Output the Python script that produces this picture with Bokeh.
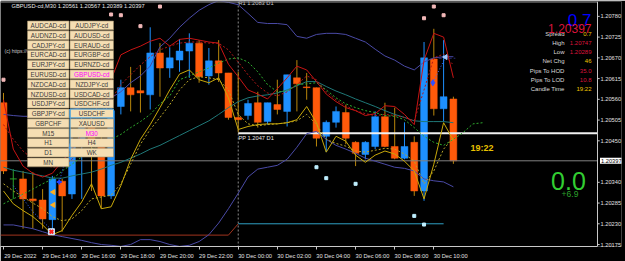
from bokeh.plotting import figure
from bokeh.models import Range1d, FixedTicker, CustomJSTickFormatter, PrintfTickFormatter, Span, Label
from bokeh.core.properties import value
from bokeh.embed import file_html
from bokeh.resources import INLINE

FONT = value("Liberation Sans")

# ---------------- data ----------------
title_text = "GBPUSD-cd,M30  1.20561 1.20567 1.20389 1.20397"

opens = [1.20551, 1.20349, 1.20349, 1.20296, 1.20293, 1.20241, 1.20343, 1.20309, 1.20440, 1.20490,
         1.20450, 1.20304, 1.20541, 1.20591, 1.20583, 1.20572, 1.20683, 1.20643, 1.20664, 1.20688,
         1.20709, 1.20622, 1.20662, 1.20630, 1.20512, 1.20517, 1.20551, 1.20501, 1.20546, 1.20528,
         1.20617, 1.20593, 1.20591, 1.20462, 1.20499, 1.20525, 1.20446, 1.20414, 1.20435, 1.20514,
         1.20435, 1.20404, 1.20446, 1.20317, 1.20667, 1.20535, 1.20561]
highs = [1.20577, 1.20375, 1.20370, 1.20367, 1.20322, 1.20357, 1.20349, 1.20470, 1.20520, 1.20510,
         1.20480, 1.20545, 1.20612, 1.20646, 1.20651, 1.20751, 1.20709, 1.20698, 1.20720, 1.20735,
         1.20717, 1.20696, 1.20717, 1.20630, 1.20633, 1.20559, 1.20580, 1.20551, 1.20612, 1.20625,
         1.20664, 1.20630, 1.20591, 1.20504, 1.20541, 1.20546, 1.20449, 1.20449, 1.20528, 1.20551,
         1.20538, 1.20499, 1.20462, 1.20712, 1.20747, 1.20717, 1.20567]
lows = [1.20362, 1.20296, 1.20217, 1.20217, 1.20217, 1.20209, 1.20209, 1.20296, 1.20296, 1.20317,
        1.20270, 1.20296, 1.20520, 1.20528, 1.20525, 1.20533, 1.20567, 1.20617, 1.20633, 1.20617,
        1.20604, 1.20599, 1.20606, 1.20506, 1.20472, 1.20506, 1.20485, 1.20493, 1.20520, 1.20488,
        1.20528, 1.20559, 1.20435, 1.20420, 1.20485, 1.20441, 1.20383, 1.20401, 1.20428, 1.20433,
        1.20401, 1.20401, 1.20304, 1.20291, 1.20517, 1.20501, 1.20389]
closes = [1.20370, 1.20349, 1.20296, 1.20291, 1.20243, 1.20349, 1.20304, 1.20440, 1.20490, 1.20450,
          1.20304, 1.20530, 1.20591, 1.20572, 1.20577, 1.20683, 1.20643, 1.20670, 1.20688, 1.20709,
          1.20620, 1.20662, 1.20630, 1.20512, 1.20506, 1.20549, 1.20499, 1.20551, 1.20533, 1.20625,
          1.20601, 1.20591, 1.20457, 1.20499, 1.20528, 1.20457, 1.20417, 1.20446, 1.20514, 1.20435,
          1.20404, 1.20435, 1.20317, 1.20670, 1.20535, 1.20567, 1.20397]

upper_band = [1.20520, 1.20517, 1.20515, 1.20515, 1.20517, 1.20522, 1.20528, 1.20533, 1.20538, 1.20546,
              1.20556, 1.20564, 1.20580, 1.20604, 1.20622, 1.20648, 1.20699, 1.20722, 1.20751, 1.20775,
              1.20796, 1.20811, 1.20822, 1.20817, 1.20811, 1.20788, 1.20764, 1.20761, 1.20761, 1.20758,
              1.20727, 1.20722, 1.20732, 1.20735, 1.20735, 1.20732, 1.20722, 1.20712, 1.20693, 1.20675,
              1.20664, 1.20648, 1.20638, 1.20659, 1.20670, 1.20673, 1.20673]
middle_band = [1.20380, 1.20372, 1.20367, 1.20362, 1.20357, 1.20351, 1.20351, 1.20357, 1.20362, 1.20367,
               1.20375, 1.20385, 1.20393, 1.20404, 1.20415, 1.20428, 1.20438, 1.20451, 1.20464, 1.20477,
               1.20490, 1.20503, 1.20520, 1.20538, 1.20554, 1.20564, 1.20569, 1.20572, 1.20577, 1.20585,
               1.20596, 1.20607, 1.20607, 1.20594, 1.20582, 1.20572, 1.20561, 1.20551, 1.20541, 1.20530,
               1.20520, 1.20512, 1.20503, 1.20501, 1.20501, 1.20501, 1.20498]
lower_band = [1.20227, 1.20227, 1.20222, 1.20217, 1.20209, 1.20201, 1.20196, 1.20191, 1.20186, 1.20180,
              1.20175, 1.20173, 1.20170, 1.20175, 1.20188, 1.20188, 1.20183, 1.20175, 1.20170, 1.20173,
              1.20183, 1.20201, 1.20232, 1.20270, 1.20311, 1.20354, 1.20375, 1.20380, 1.20385, 1.20401,
              1.20433, 1.20469, 1.20475, 1.20454, 1.20438, 1.20428, 1.20417, 1.20404, 1.20396, 1.20388,
              1.20380, 1.20377, 1.20370, 1.20349, 1.20344, 1.20341, 1.20328]
red_line = [1.20559, 1.20428, 1.20383, 1.20364, 1.20354, 1.20364, 1.20396, 1.20428, 1.20467, 1.20512,
            1.20559, 1.20612, 1.20678, 1.20691, 1.20701, 1.20714, 1.20722, 1.20701, 1.20719, 1.20722,
            1.20717, 1.20712, 1.20709, 1.20653, 1.20620, 1.20585, 1.20574, 1.20561, 1.20588, 1.20617,
            1.20648, 1.20638, 1.20607, 1.20574, 1.20554, 1.20538, 1.20530, 1.20517, 1.20522, 1.20543,
            1.20541, 1.20520, 1.20493, 1.20664, 1.20735, 1.20725, 1.20617]
red_dotted = [1.20493, 1.20454, 1.20423, 1.20401, 1.20388, 1.20380, 1.20383, 1.20401, 1.20433, 1.20467,
              1.20512, 1.20559, 1.20599, 1.20625, 1.20651, 1.20673, 1.20691, 1.20701, 1.20709, 1.20712,
              1.20712, 1.20709, 1.20709, 1.20691, 1.20659, 1.20625, 1.20596, 1.20577, 1.20569, 1.20580,
              1.20599, 1.20622, 1.20612, 1.20580, 1.20559, 1.20543, 1.20530, 1.20522, 1.20517, 1.20520,
              1.20517, 1.20512, 1.20503, 1.20585, 1.20670, 1.20680, 1.20651]
yellow_line = [1.20317, 1.20283, 1.20265, 1.20249, 1.20227, 1.20201, 1.20212, 1.20252, 1.20288, 1.20336,
               1.20270, 1.20275, 1.20331, 1.20401, 1.20454, 1.20493, 1.20538, 1.20585, 1.20627, 1.20638,
               1.20612, 1.20604, 1.20617, 1.20564, 1.20480, 1.20488, 1.20493, 1.20495, 1.20495, 1.20498,
               1.20506, 1.20541, 1.20498, 1.20420, 1.20462, 1.20449, 1.20412, 1.20393, 1.20412, 1.20423,
               1.20415, 1.20396, 1.20370, 1.20296, 1.20388, 1.20498, 1.20451]
yellow_dotted = [1.20336, 1.20317, 1.20301, 1.20285, 1.20270, 1.20249, 1.20238, 1.20243, 1.20265, 1.20296,
                 1.20301, 1.20306, 1.20336, 1.20388, 1.20441, 1.20480, 1.20512, 1.20546, 1.20585, 1.20612,
                 1.20620, 1.20617, 1.20612, 1.20585, 1.20520, 1.20495, 1.20490, 1.20493, 1.20495, 1.20498,
                 1.20503, 1.20520, 1.20493, 1.20454, 1.20443, 1.20436, 1.20423, 1.20420, 1.20425, 1.20430,
                 1.20428, 1.20415, 1.20396, 1.20336, 1.20370, 1.20428, 1.20459]
green_dotted = [1.20283, 1.20296, 1.20309, 1.20322, 1.20336, 1.20349, 1.20370, 1.20388, 1.20407, 1.20428,
                1.20443, 1.20454, 1.20467, 1.20485, 1.20501, 1.20520, 1.20548, 1.20569, 1.20612, 1.20622,
                1.20633, 1.20643, 1.20656, 1.20667, 1.20670, 1.20659, 1.20633, 1.20599, 1.20580, 1.20582,
                1.20599, 1.20601, 1.20604, 1.20585, 1.20564, 1.20548, 1.20538, 1.20530, 1.20525, 1.20517,
                1.20515, 1.20506, 1.20485, 1.20462, 1.20446, 1.20438, 1.20454, 1.20472, 1.20495, 1.20498]

time_ticks = [0, 4, 8, 12, 16, 20, 24, 28, 32, 36, 40, 44]
time_labels = ["29 Dec 2022", "29 Dec 14:00", "29 Dec 16:00", "29 Dec 18:00", "29 Dec 20:00",
               "29 Dec 22:00", "30 Dec 00:00", "30 Dec 02:00", "30 Dec 04:00", "30 Dec 06:00",
               "30 Dec 08:00", "30 Dec 10:00"]
price_ticks = [1.20175, 1.20230, 1.20285, 1.20340, 1.20450, 1.20505, 1.20560,
               1.20615, 1.20670, 1.20725, 1.20780]

bid_price = 1.20397
day_start_bar = 24
pp_level = 1.2047
pp_label = "PP 1.2047 D1"
r1_label = "R1 1.2083 D1"
prev_support = 1.2020
day_support = 1.2023
last_level_bar = 45

pink_bars = [0, 11, 12, 14, 16, 43, 44, 45]
pink_prices = [1.20612, 1.20785, 1.20783, 1.20754, 1.20806, 1.20775, 1.20806, 1.20783]
cyan_bars = [32, 33, 36, 42, 43]
cyan_prices = [1.20380, 1.20351, 1.20336, 1.20251, 1.20228]

left_buttons = ["AUDCAD-cd", "AUDNZD-cd", "CADJPY-cd", "EURCAD-cd", "EURJPY-cd", "EURUSD-cd",
                "NZDCAD-cd", "NZDUSD-cd", "USDJPY-cd", "GBPJPY-cd", "GBPCHF", "M15", "H1", "D1", "MN"]
right_buttons = ["AUDJPY-cd", "AUDUSD-cd", "EURAUD-cd", "EURGBP-cd", "EURNZD-cd", "GBPUSD-cd",
                 "NZDJPY-cd", "USDCAD-cd", "USDCHF-cd", "USDCHF", "XAUUSD", "M30", "H4", "WK"]
active_buttons = ["GBPUSD-cd", "M30"]

info_labels = ["Spread", "High", "Low", "Net Chg", "Pips To HOD", "Pips To LOD", "Candle Time"]
info_values = ["0.7", "1.20747", "1.20289", "46", "35.0", "10.8", "19:22"]
spread_text = "0.7"
price_text = "1.20397"
timer_text = "19:22"
big_change = "0.0"
small_change = "+6.9"

# ---------------- figure ----------------
# The frame reaches almost to the right edge so the bid tag can sit over the price scale;
# the price axis sits at the frame edge and draws its labels back over that strip.
X_LEFT, X_CHART_END, X_FRAME_END = -0.307, 60.74, 63.19
p = figure(width=625, height=261, title=None, output_backend="svg", toolbar_location=None,
           x_range=Range1d(X_LEFT, X_FRAME_END), y_range=Range1d(1.201698, 1.208194),
           y_axis_location="right", background_fill_color="black", border_fill_color="black",
           outline_line_color=None, min_border_left=0, min_border_right=4,
           min_border_top=1, min_border_bottom=13)
p.extra_x_ranges = {"px": Range1d(0, 621)}
p.extra_y_ranges = {"px": Range1d(248, 1)}
p.xgrid.visible = False
p.ygrid.visible = False

AX = "#c8c8c8"
LBL = "#e0e0e0"
ya = p.yaxis[0]
ya.ticker = FixedTicker(ticks=price_ticks)
ya.formatter = PrintfTickFormatter(format="%.5f")
ya.axis_line_color = None
ya.major_tick_line_color = None
ya.minor_tick_line_color = None
ya.major_tick_in = 0
ya.major_tick_out = 0
ya.minor_tick_in = 0
ya.minor_tick_out = 0
ya.major_label_standoff = -21
ya.major_label_text_font = "Liberation Sans"
ya.major_label_text_font_size = "5.7px"
ya.major_label_text_color = LBL

xa = p.xaxis[0]
label_pos = [t + 1.72 for t in time_ticks]
xa.ticker = FixedTicker(ticks=label_pos, minor_ticks=time_ticks)
xa.formatter = CustomJSTickFormatter(args=dict(pos=label_pos, labels=time_labels),
                                     code="const k = pos.indexOf(tick); return k >= 0 ? labels[k] : '';")
xa.bounds = (X_LEFT, X_CHART_END)
xa.axis_line_color = AX
xa.major_tick_line_color = None
xa.major_tick_in = 0
xa.major_tick_out = 0
xa.minor_tick_line_color = AX
xa.minor_tick_in = 0
xa.minor_tick_out = 3
xa.major_label_standoff = 3
xa.major_label_text_font = "Liberation Sans"
xa.major_label_text_font_size = "5.7px"
xa.major_label_text_color = LBL

# day separator
p.add_layout(Span(location=day_start_bar, dimension="height", line_color="#8a8a8a",
                  line_dash="2 2", line_width=1, level="underlay"))

# ---------------- candles ----------------
n = len(opens)
idx = list(range(n))
BULL, BEAR, DOJI = "#1e90ff", "#ff5a0a", "#2aa02a"
WUP, WDN = "#1e90ff", "#b8860b"
wick_col = [WUP if c > o else (WDN if c < o else DOJI) for o, c in zip(opens, closes)]
p.segment(x0=idx, y0=lows, x1=idx, y1=highs, color=wick_col, line_width=1)
bx = [i for i in idx if closes[i] > opens[i]]
p.vbar(x=bx, width=0.7, top=[closes[i] for i in bx], bottom=[opens[i] for i in bx],
       fill_color=BULL, line_color=BULL, line_width=0.5)
sx = [i for i in idx if closes[i] < opens[i]]
p.vbar(x=sx, width=0.7, top=[opens[i] for i in sx], bottom=[closes[i] for i in sx],
       fill_color=BEAR, line_color=BEAR, line_width=0.5)
dx = [i for i in idx if closes[i] == opens[i]]
p.segment(x0=[i - 0.35 for i in dx], x1=[i + 0.35 for i in dx], y0=[opens[i] for i in dx],
          y1=[opens[i] for i in dx], color=DOJI, line_width=1)

# ---------------- levels ----------------
p.segment(x0=[X_LEFT, day_start_bar - 1], y0=[prev_support, prev_support],
          x1=[day_start_bar - 1, day_start_bar], y1=[prev_support, day_support],
          color="#a0341e", line_width=1)
p.segment(x0=[day_start_bar], y0=[day_support], x1=[last_level_bar], y1=[day_support],
          color="#2f9fc4", line_width=1)
p.segment(x0=[X_LEFT], y0=[bid_price], x1=[X_CHART_END], y1=[bid_price],
          color="#808080", line_width=1)
p.segment(x0=[day_start_bar], y0=[pp_level], x1=[X_CHART_END], y1=[pp_level],
          color="#f0f0f0", line_width=2)

# ---------------- indicators ----------------
p.line(idx, upper_band, color="#4a4aa6", line_width=1)
p.line(idx, lower_band, color="#4a4aa6", line_width=1)
p.line(idx, middle_band, color="#1f7878", line_width=1)
p.line(idx, red_dotted, color="#b01818", line_width=1, line_dash="2 2")
p.line(list(range(len(green_dotted))), green_dotted, color="#2eaa2e", line_width=1, line_dash="2 2")
p.line(idx, yellow_dotted, color="#b8a428", line_width=1, line_dash="2 2")
p.line(idx, red_line, color="#c81414", line_width=1)
p.line(idx, yellow_line, color="#c8a80a", line_width=1)

# dots
p.scatter(pink_bars, pink_prices, marker="square", size=3, color="#f2b8b8")
p.scatter(cyan_bars, cyan_prices, marker="square", size=3, color="#bfefff")

# trade objects
p.line([1.0, 3.0, 4.8], [1.20331, 1.20262, 1.20217], color="#3c64ff", line_dash="1 2")
p.line([5.7, 7.6, 10.9], [1.20341, 1.20520, 1.20538], color="#3c64ff", line_dash="1 2")
p.line([43.9, 45.2], [1.20604, 1.20672], color="#3c64ff", line_dash="1 2")
p.line([44.5, 46.2], [1.20669, 1.20669], color="#2a2a7a", line_dash="3 2")
p.scatter([5.1, 5.1], [1.20314, 1.20280], marker="triangle", angle=1.5708, size=5, color="#ffb020")
p.scatter([4.9], [1.20209], marker="square", size=6, fill_color="#d0e8ff", line_color="#d0e8ff")
p.scatter([4.9], [1.20209], marker="x", size=5, line_color="#ff2020", line_width=2)
p.scatter([5.7], [1.20341], marker="cross", size=5, line_color="#2040ff", line_width=2)
p.scatter([43.9], [1.20604], marker="diamond", size=6, color="#3050ff")
p.scatter([45.2], [1.20672], marker="triangle", angle=1.5708, size=5, color="#9ec8ff")


def txt(xs, ys, texts, size, color, align="left", baseline="middle", style="normal"):
    p.text(x=xs, y=ys, text=texts, x_range_name="px", y_range_name="px", text_font=FONT,
           text_font_size=size, text_color=color, text_align=align, text_baseline=baseline,
           text_font_style=style)


# chart border: top line, price-scale line and its tick marks
p.segment(x0=[0, 597], y0=[1.5, 1], x1=[597, 597], y1=[1.5, 248], x_range_name="px",
          y_range_name="px", color=["#9a9a9a", AX], line_width=1)
p.segment(x0=[X_CHART_END] * len(price_ticks), y0=price_ticks,
          x1=[X_CHART_END + 0.22] * len(price_ticks), y1=price_ticks, color=AX, line_width=1)

# chart texts
txt([11], [6], [title_text], "5.7px", "#e8e8e8")
txt([4], [51], ["(c) https://www.mql5.com"], "5px", "#c8c8c8")
txt([238], [5.5], [r1_label], "5.7px", "#c8c8c8", baseline="bottom")
txt([238], [136], [pp_label], "5.7px", "#e8e8e8", baseline="top")

# ---------------- button panel ----------------
rows_l = list(range(len(left_buttons)))
rows_r = list(range(len(right_buttons)))
tops_l = [20.7 + 9.86 * k for k in rows_l]
tops_r = [20.7 + 9.86 * k for k in rows_r]
p.quad(left=[27] * len(rows_l), right=[68.5] * len(rows_l), top=tops_l,
       bottom=[t + 8.9 for t in tops_l], x_range_name="px", y_range_name="px",
       fill_color="#f5deb3", line_color="#9c8a66", line_width=0.6)
p.quad(left=[69.5] * len(rows_r), right=[113] * len(rows_r), top=tops_r,
       bottom=[t + 8.9 for t in tops_r], x_range_name="px", y_range_name="px",
       fill_color="#f5deb3", line_color="#9c8a66", line_width=0.6)
txt([47.75] * len(rows_l), [t + 4.6 for t in tops_l], left_buttons, "6.3px",
    ["#ff00ff" if b in active_buttons else "#3c3c3c" for b in left_buttons], align="center")
txt([91.25] * len(rows_r), [t + 4.6 for t in tops_r], right_buttons, "6.3px",
    ["#ff00ff" if b in active_buttons else "#3c3c3c" for b in right_buttons], align="center")
sel = right_buttons.index("USDCHF")
p.quad(left=[69.5], right=[113], top=[tops_r[sel]], bottom=[tops_r[sel] + 8.9],
       x_range_name="px", y_range_name="px", fill_color=None, line_color="#4aa8e8", line_width=1)
p.segment(x0=[69.5], y0=[tops_r[sel]], x1=[69.5], y1=[157], x_range_name="px",
          y_range_name="px", color="#4aa8e8", line_width=1)

# ---------------- info block ----------------
info_y = [33.3 + 9.33 * k for k in range(len(info_labels))]
val_cols = ["#f0c800", "#dc143c", "#dc143c", "#f0c800", "#dc143c", "#dc143c", "#f0c800"]
txt([564] * len(info_labels), info_y, info_labels, "6px", "#dcdcdc", align="right")
txt([591] * len(info_values), info_y, info_values, "6px", val_cols, align="right")
txt([591], [20], [spread_text], "17px", "#0000ff", align="right", baseline="alphabetic")
txt([591], [28], [price_text], "12px", "#dc143c", align="right", baseline="alphabetic")
txt([481.5], [149], [timer_text], "9px", "#e8c000", align="center", style="bold")
txt([568], [182], [big_change], "25px", "#32cd32", align="center", baseline="alphabetic")
txt([569.5], [195], [small_change], "8.5px", "#2ca02c", align="center", baseline="alphabetic")

# current price tag over the price scale
p.add_layout(Label(x=599.5, y=bid_price, x_units="screen", y_units="data", text=price_text,
                   text_font="Liberation Sans", text_font_size="5.7px", text_color="black",
                   text_baseline="middle", background_fill_color="white", padding=1))

open("out.html", "w").write(file_html(p, INLINE))
